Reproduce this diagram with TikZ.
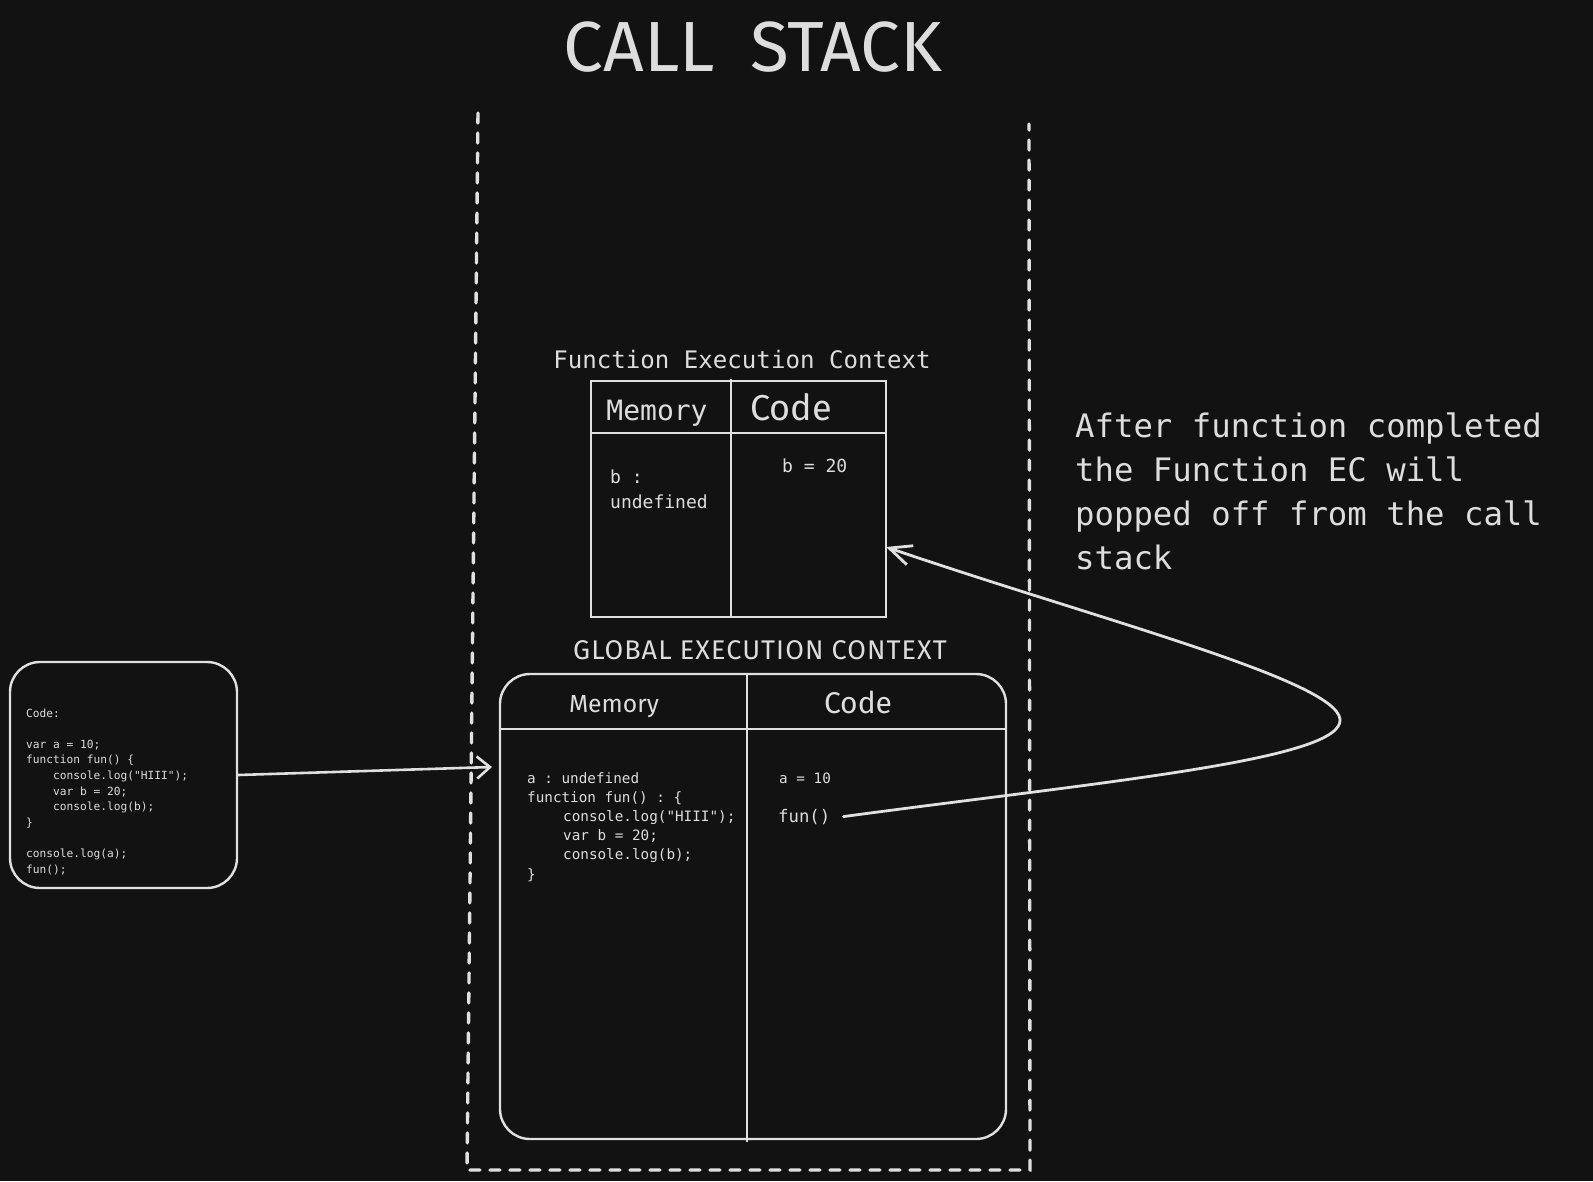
\documentclass[tikz,border=0pt]{standalone}
\usepackage{fontspec}
\setmainfont{DejaVu Sans}
\newfontfamily\mono{DejaVu Sans Mono}
\newfontfamily\hand{Fira Sans}
\newfontfamily\handwide[LetterSpace=4]{Fira Sans}
\usetikzlibrary{arrows.meta}
\definecolor{bg}{HTML}{121212}
\definecolor{fg}{HTML}{E0E0E0}
\definecolor{tx}{HTML}{DDDDDD}
\newcommand\fsz[1]{\fontsize{#1}{#1}\selectfont}
\begin{document}
\frenchspacing
\begin{tikzpicture}[x=1pt,y=-1pt,
  txt/.style={inner sep=0pt, text=tx, anchor=base west},
  ctxt/.style={inner sep=0pt, text=tx, anchor=base},
  boxline/.style={draw=fg, line width=2.4pt},
  thinline/.style={draw=fg, line width=2pt},
  dashline/.style={draw=fg, line width=3.4pt, line cap=round, dash pattern=on 10pt off 10pt},
  arrA/.style={draw=fg, line width=2.6pt, line cap=round, -{Straight Barb[length=13pt,width=22pt,line width=2.6pt]}},
  arrB/.style={draw=fg, line width=2.8pt, line cap=round, -{Straight Barb[length=22pt,width=20pt,line width=2.8pt]}}]
\fill[bg] (0,0) rectangle (1593,1181);
\useasboundingbox (0,0) rectangle (1593,1181);

% title
\node[ctxt, font=\hand\fsz{71}] (title) at (753,71) {CALL\hspace{17pt} STACK};

% call stack dashed container
\draw[dashline] (478,113) -- (467,1170) -- (1030,1170) -- (1029,124);

% function execution context
\node[ctxt, font=\mono\fsz{24.1}] (fectitle) at (742,368) {Function Execution Context};
\node[thinline, inner sep=0pt, minimum width=295pt, minimum height=236pt] (fec) at (738.5,499) {};
\draw[thinline] (591,433) -- (886,433);
\draw[thinline] (731,379) -- (731,617);
\node[ctxt, font=\mono\fsz{28}] (fecmem) at (657,420) {Memory};
\node[txt, font=\hand\fsz{36}] (feccode) at (750,420) {Code};
\node[txt, font=\mono\fsz{18}] (fecb1) at (610,483) {b :};
\node[txt, font=\mono\fsz{18}] (fecb2) at (610,508) {undefined};
\node[txt, font=\mono\fsz{18}] (fecb3) at (782,472) {b = 20};

% global execution context
\node[ctxt, font=\handwide\fsz{27}] (gectitle) at (760,659) {GLOBAL EXECUTION CONTEXT};
\node[boxline, rounded corners=30pt, inner sep=0pt, minimum width=506pt, minimum height=465pt] (gec) at (753,906.5) {};
\draw[boxline] (500,729) -- (1006,729);
\draw[boxline] (747,674) -- (747,1142);
\node[ctxt, font=\hand\fsz{24.7}] (gecmem) at (614,712) {Memory};
\node[ctxt, font=\hand\fsz{30}] (geccode) at (858,713) {Code};
\foreach \k/\xx/\t in {0/527/{a : undefined}, 1/527/{function fun() : \{}, 2/563/{console.log("HIII");}, 3/563/{var b = 20;}, 4/563/{console.log(b);}, 5/527/{\}}}
  \node[txt, font=\mono\fsz{14.3}] (gm\k) at (\xx, 783+19.2*\k) {\t};
\node[txt, font=\mono\fsz{14.3}] (gca) at (779,783) {a = 10};
\node[txt, font=\mono\fsz{17.3}] (fun) at (778,822) {fun()};

% source code box
\node[boxline, rounded corners=30pt, inner sep=0pt, minimum width=227pt, minimum height=226pt] (codebox) at (123.5,775) {};
\foreach \k/\xx/\t in {0/26/{Code:}, 2/26/{var a = 10;}, 3/26/{function fun() \{}, 4/53/{console.log("HIII");}, 5/53/{var b = 20;}, 6/53/{console.log(b);}, 7/26/{\}}, 9/26/{console.log(a);}, 10/26/{fun();}}
  \node[txt, font=\mono\fsz{11.2}] (cb\k) at (\xx, 717+15.6*\k) {\t};

% note
\foreach \k/\t in {0/{After function completed}, 1/{the Function EC will}, 2/{popped off from the call}, 3/{stack}}
  \node[txt, font=\mono\fsz{32.3}] (note\k) at (1075, 437+44*\k) {\t};

% connectors
\coordinate (gecin) at (492,767);
\coordinate (fecin) at (886,547);
\coordinate (turn) at (1340,719);
\draw[arrA] (codebox.east) -- (gecin);
\draw[arrB] ([xshift=13pt]fun.east) .. controls (1100,782) and (1345,760) .. (turn)
  .. controls (1335,680) and (1100,620) .. (fecin);
\end{tikzpicture}
\end{document}
